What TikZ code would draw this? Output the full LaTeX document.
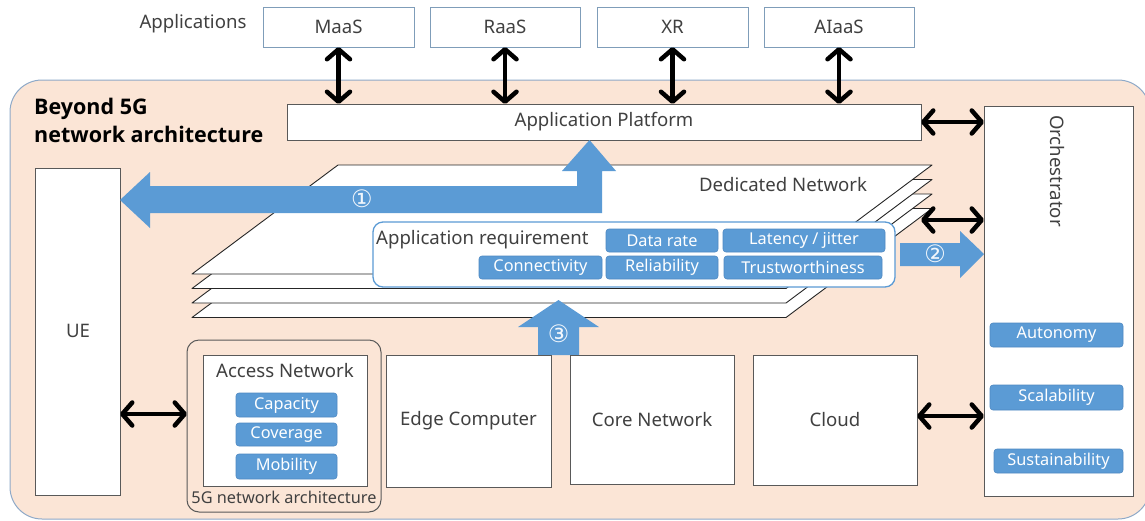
\documentclass[tikz,border=0pt]{standalone}
\usepackage{fontspec}
\setmainfont{Noto Sans}
\newfontfamily\titlefont{Open Sans}
\newfontfamily\circfont{DejaVu Sans}
\usetikzlibrary{arrows.meta}

\definecolor{peach}{HTML}{FBE5D6}
\definecolor{frameblue}{HTML}{8EA9C8}
\definecolor{tagblue}{HTML}{5B9BD5}
\definecolor{tagedge}{HTML}{4F89C2}
\definecolor{ink}{HTML}{404040}
\definecolor{boxedge}{HTML}{595959}
\definecolor{appedge}{HTML}{7F9DB9}

% box from corner (x1,y1) to (x2,y2): style, x1, y1, x2, y2, name, text
\newcommand{\placebox}[7]{%
  \node[#1, minimum width={#4-#2}, minimum height={#5-#3}] (#6)
    at ({(#2+#4)/2},{(#3+#5)/2}) {#7};}

\tikzset{
  plain/.style={draw=boxedge, line width=1pt, fill=white, inner sep=0pt,
    outer sep=0pt, text=ink, font=\fontsize{18.6}{22}\selectfont},
  appbox/.style={plain, draw=appedge, line width=0.8pt},
  groupbox/.style={draw=boxedge, line width=1pt, rounded corners=12pt,
    inner sep=0pt, outer sep=0pt},
  tag/.style={fill=tagblue, draw=tagedge, line width=0.6pt, rounded corners=3pt,
    inner sep=0pt, outer sep=0pt, text=white, font=\fontsize{16.3}{19}\selectfont},
  lbl/.style={text=ink, inner sep=0pt, font=\fontsize{18.6}{22}\selectfont},
  layer/.style={draw=black!85, line width=0.9pt, fill=white, line join=round},
  dbl/.style={line width=4.5pt,
    {Straight Barb[round, length=10pt, width=23pt]}-{Straight Barb[round, length=10pt, width=23pt]}},
  flow/.style={fill=tagblue, draw=none},
  num/.style={text=white!92!tagblue, inner sep=0pt, font=\circfont\fontsize{24}{24}\selectfont},
}

\begin{document}
\begin{tikzpicture}[x=1pt, y=-1pt]
\useasboundingbox (0,0) rectangle (1145,520);

% outer frame
\draw[fill=peach, draw=frameblue, line width=1pt, rounded corners=32pt]
  (10,80) rectangle (1150,519);

% applications row
\node[lbl] (apps) at (193,24) {Applications};
\placebox{appbox}{263}{7}{414}{47}{maas}{MaaS}
\placebox{appbox}{430}{7}{580}{47}{raas}{RaaS}
\placebox{appbox}{597}{7}{748}{47}{xr}{XR}
\placebox{appbox}{764}{7}{914}{47}{aiaas}{AIaaS}

% title
\node[anchor=north west, align=left, inner sep=0pt, text=black,
  font=\titlefont\fontsize{21.5}{28}\selectfont\bfseries] (title) at (34,98)
  {Beyond 5G\\network architecture};

% platform and orchestrator
\placebox{plain}{287}{104}{921}{140}{ap}{Application Platform}
\placebox{plain}{984}{106}{1133}{496}{orch}{}
\node[lbl, rotate=-90] (orchlbl) at (1057,171) {Orchestrator};
\placebox{tag}{990}{323}{1123}{347}{auto}{Autonomy}
\placebox{tag}{990}{385}{1123}{410}{scal}{Scalability}
\placebox{tag}{994}{449}{1123}{473}{sust}{Sustainability}

% UE
\placebox{plain}{35}{168}{120}{495}{ue}{}
\node[lbl] (uelbl) at (78,331) {UE};

% dedicated network layers
\foreach \i in {3,2,1,0}{
  \draw[layer] (338,165+14.5*\i) -- (932,165+14.5*\i) -- (786,274+14.5*\i)
    -- (192,274+14.5*\i) -- cycle;
}
\node[lbl] (dnlbl) at (783,185) {Dedicated Network};

% application requirement
\draw[draw=tagblue, line width=1.3pt, fill=white, rounded corners=10pt]
  (373,222) rectangle (895,287);
\node[lbl, anchor=west] (reqlbl) at (376,240) {Application requirement};
\placebox{tag}{606}{229}{718}{252}{drate}{Data rate}
\placebox{tag}{723}{229}{885}{252}{lat}{Latency / jitter}
\placebox{tag}{479}{256}{602}{279}{conn}{Connectivity}
\placebox{tag}{606}{256}{718}{279}{rel}{Reliability}
\placebox{tag}{724}{256}{882}{279}{trust}{Trustworthiness}

% flow 1: platform <-> UE
\fill[flow] (120,200) -- (150,172) -- (150,186) -- (577,186) -- (577,171)
  -- (562,171) -- (589.5,140) -- (616,171) -- (602,171) -- (602,213)
  -- (150,213) -- (150,228) -- cycle;
\node[num] (n1) at (362,199) {①};

% flow 2: requirement -> orchestrator
\fill[flow] (900,243) -- (960,243) -- (960,231) -- (984,254) -- (960,278)
  -- (960,266) -- (900,266) -- cycle;
\node[num] (n2) at (935,254) {②};

% flow 3: resources -> dedicated network
\fill[flow] (538,355) -- (538,327) -- (518,327) -- (558.5,300) -- (599,327)
  -- (579,327) -- (579,355) -- cycle;
\node[num] (n3) at (558.5,334) {③};

% 5G network architecture group
\placebox{groupbox}{187}{340}{381}{512}{g5}{}
\node[lbl, font=\fontsize{16.3}{19}\selectfont] (g5lbl) at (284,497) {5G network architecture};
\placebox{plain}{203}{355}{367}{486}{access}{}
\node[lbl] (acclbl) at (285,371) {Access Network};
\placebox{tag}{236}{393}{337}{417}{cap}{Capacity}
\placebox{tag}{236}{423}{337}{446}{cov}{Coverage}
\placebox{tag}{236}{454}{337}{479}{mob}{Mobility}

% resource boxes
\placebox{plain}{386}{355}{551}{487}{edge}{Edge Computer}
\placebox{plain}{570}{355}{734}{484}{core}{Core Network}
\placebox{plain}{753}{355}{917}{485}{cloud}{Cloud}

% double-headed connectors
\draw[dbl] (maas.south) -- (maas.south |- ap.north);
\draw[dbl] (raas.south) -- (raas.south |- ap.north);
\draw[dbl] (xr.south) -- (xr.south |- ap.north);
\draw[dbl] (aiaas.south) -- (aiaas.south |- ap.north);
\draw[dbl] (ap.east) -- (orch.west |- ap.east);
\coordinate (dnright) at (921,220);
\draw[dbl] (dnright) -- (orch.west |- dnright);
\coordinate (uemid) at (120,414);
\draw[dbl] (uemid) -- (uemid -| g5.west);
\coordinate (cloudmid) at (917,416);
\draw[dbl] (cloudmid) -- (orch.west |- cloudmid);
\end{tikzpicture}
\end{document}
